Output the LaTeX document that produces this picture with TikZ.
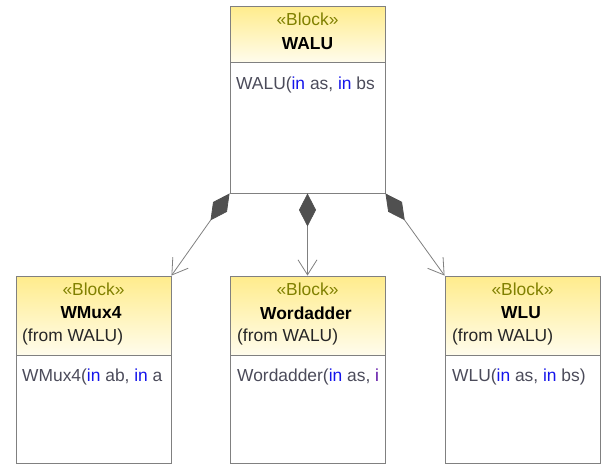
\documentclass[tikz,border=0pt]{standalone}
\usepackage{fontspec}
\setmainfont{Liberation Sans}
\usetikzlibrary{arrows.meta}
\definecolor{lineg}{RGB}{128,128,128}
\definecolor{stereo}{RGB}{128,128,0}
\definecolor{optext}{RGB}{75,75,90}
\definecolor{kw}{RGB}{20,20,235}
\definecolor{hdtop}{RGB}{255,236,140}
\definecolor{hdbot}{RGB}{255,252,236}
\definecolor{diam}{RGB}{80,80,80}
\tikzset{
  boxframe/.style={draw=lineg, line width=0.9pt, inner sep=0pt, minimum width=155pt},
  header/.style={top color=hdtop, bottom color=hdbot},
  divider/.style={draw=lineg, line width=0.9pt},
  stereotype/.style={text=stereo, inner sep=0pt, anchor=center},
  bname/.style={font=\fontsize{17.4}{20}\selectfont\bfseries, inner sep=0pt, anchor=center},
  fromtxt/.style={text=black!85, inner sep=0pt, anchor=west},
  optxt/.style={text=optext, inner sep=0pt, anchor=west},
  comp/.style={draw=lineg, line width=0.8pt,
    {Diamond[length=33pt,width=17pt,fill=diam,color=diam]}-{Straight Barb[length=15pt,width=19pt,color=lineg]}}
}
\newcommand\kwin{\textcolor{kw}{in}}
\begin{document}
\begin{tikzpicture}[x=1pt,y=-1pt,font=\fontsize{17.4}{20}\selectfont]
\useasboundingbox (0,0) rectangle (605,466);
% WALU
\fill[header] (230,6) rectangle (385,62);
\node[boxframe, minimum height=187pt] (walu) at (307.5,99.5) {};
\draw[divider] (230,62) -- (385,62);
\node[stereotype] (walust) at (307.5,19) {«Block»};
\node[bname] (waluname) at (307.5,44) {WALU};
\node[optxt] (waluop) at (236,85) {WALU(\kwin{} as, \kwin{} bs};
% WMux4
\fill[header] (16,276) rectangle (171,355);
\node[boxframe, minimum height=187pt] (wmux) at (93.5,369.5) {};
\draw[divider] (16,355) -- (171,355);
\node[stereotype] (wmuxst) at (93.5,289) {«Block»};
\node[bname] (wmuxname) at (91,313) {WMux4};
\node[fromtxt] (wmuxfrom) at (22,337) {(from WALU)};
\node[optxt] (wmuxop) at (22,377) {WMux4(\kwin{} ab, \kwin{} a};
% Wordadder
\fill[header] (230,276) rectangle (385,355);
\node[boxframe, minimum height=187pt] (wadd) at (307.5,369.5) {};
\draw[divider] (230,355) -- (385,355);
\node[stereotype] (waddst) at (307.5,289) {«Block»};
\node[bname] (waddname) at (306,313) {Wordadder};
\node[fromtxt] (waddfrom) at (237,337) {(from WALU)};
\node[optxt] (waddop) at (237,377) {Wordadder(\kwin{} as, \textcolor{kw!70!red}{i}};
% WLU
\fill[header] (445,276) rectangle (600,355);
\node[boxframe, minimum height=187pt] (wlu) at (522.5,369.5) {};
\draw[divider] (445,355) -- (600,355);
\node[stereotype] (wlust) at (522.5,289) {«Block»};
\node[bname] (wluname) at (521,313) {WLU};
\node[fromtxt] (wlufrom) at (452,337) {(from WALU)};
\node[optxt] (wluop) at (452,377) {WLU(\kwin{} as, \kwin{} bs)};
% connectors
\draw[comp] (walu.south west) -- (wmux.north east);
\draw[comp] (walu.south) -- (wadd.north);
\draw[comp] (walu.south east) -- (wlu.north west);
\end{tikzpicture}
\end{document}
